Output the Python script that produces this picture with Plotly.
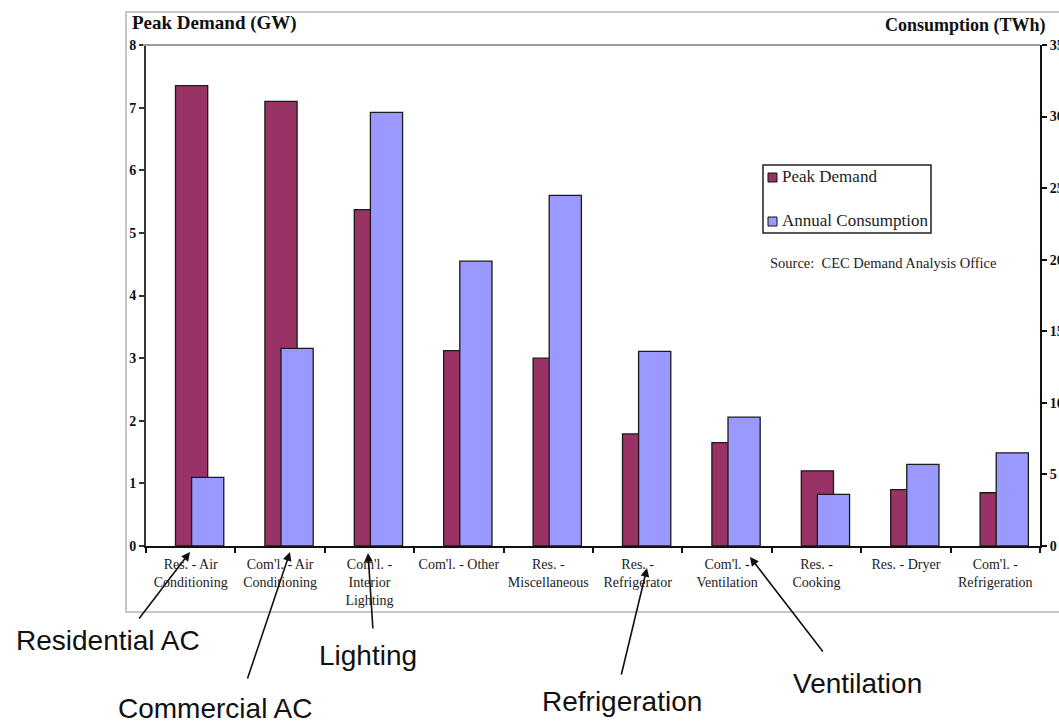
import plotly.graph_objects as go

# End-use categories and their values
categories = [
    "Res. - Air<br>Conditioning",
    "Com'l. - Air<br>Conditioning",
    "Com'l. -<br>Interior<br>Lighting",
    "Com'l. - Other",
    "Res. -<br>Miscellaneous",
    "Res. -<br>Refrigerator",
    "Com'l. -<br>Ventilation",
    "Res. -<br>Cooking",
    "Res. - Dryer",
    "Com'l. -<br>Refrigeration",
]
peak_demand_gw = [7.35, 7.10, 5.37, 3.12, 3.00, 1.79, 1.65, 1.20, 0.90, 0.85]
consumption_twh = [4.8, 13.8, 30.3, 19.9, 24.5, 13.6, 9.0, 3.6, 5.7, 6.5]

W, H = 1059, 725
PL, PR, PT, PB = 146, 1040, 45, 546  # plot-area edges in pixels


def px(x):
    return (x - PL) / (PR - PL)


def py(y):
    return (PB - y) / (PB - PT)


SERIF = "Liberation Serif"
SANS = "Liberation Sans"
MAROON = "#993366"
PERI = "#9999FF"

fig = go.Figure()
fig.add_trace(go.Bar(
    x=categories, y=peak_demand_gw, name="Peak Demand",
    marker=dict(color=MAROON, line=dict(color="#1a1a1a", width=1.3)),
    offset=-0.17, width=0.36, yaxis="y", showlegend=False,
))
fig.add_trace(go.Bar(
    x=categories, y=consumption_twh, name="Annual Consumption",
    marker=dict(color=PERI, line=dict(color="#1a1a1a", width=1.3)),
    offset=0.01, width=0.36, yaxis="y2", showlegend=False,
))

tickfont_bold = dict(family=SERIF, size=14, color="#111", weight="bold")

fig.update_layout(
    width=W, height=H, autosize=False,
    margin=dict(l=PL, r=W - PR, t=PT, b=H - PB, autoexpand=False),
    paper_bgcolor="white", plot_bgcolor="white",
    barmode="overlay",
    xaxis=dict(
        type="category", categoryorder="array", categoryarray=categories,
        range=[-0.5, 9.5], showgrid=False, zeroline=False, automargin=False,
        showline=True, linecolor="#111", linewidth=2,
        ticks="outside", tickson="boundaries", ticklen=5, tickcolor="#111", tickwidth=1.5,
        tickfont=dict(family=SERIF, size=14, color="#222"),
        tickangle=0, ticklabelstandoff=4,
    ),
    yaxis=dict(
        range=[0, 8], dtick=1, showgrid=False, zeroline=False, automargin=False,
        showline=True, linecolor="#333", linewidth=2,
        ticks="outside", ticklen=5, tickcolor="#333", tickwidth=1.5,
        tickfont=tickfont_bold,
    ),
    yaxis2=dict(
        range=[0, 35], dtick=5, overlaying="y", side="right", anchor="x",
        showgrid=False, zeroline=False, automargin=False,
        showline=True, linecolor="#111", linewidth=2,
        ticks="outside", ticklen=5, tickcolor="#111", tickwidth=1.5,
        tickfont=tickfont_bold,
    ),
)

shapes = [
    # outer chart frame
    dict(type="rect", xref="paper", yref="paper",
         x0=px(126), x1=px(1075), y0=py(12), y1=py(612),
         line=dict(color="#c8c8c8", width=2), fillcolor="rgba(0,0,0,0)", layer="below"),
    # plot-area top edge
    dict(type="line", xref="paper", yref="paper",
         x0=px(143), x1=px(PR), y0=1, y1=1,
         line=dict(color="#9a9a9a", width=2)),
    # legend box
    dict(type="rect", xref="paper", yref="paper",
         x0=px(763), x1=px(931), y0=py(165), y1=py(233),
         line=dict(color="#222", width=1.5), fillcolor="white"),
    # legend swatches
    dict(type="rect", xref="paper", yref="paper",
         x0=px(768), x1=px(777), y0=py(173), y1=py(182),
         line=dict(color="#111", width=1), fillcolor=MAROON),
    dict(type="rect", xref="paper", yref="paper",
         x0=px(768), x1=px(777), y0=py(217), y1=py(226),
         line=dict(color="#111", width=1), fillcolor=PERI),
]

annotations = [
    dict(text="<b>Peak Demand (GW)</b>", x=px(130), y=py(23), xanchor="left", yanchor="middle",
         font=dict(family=SERIF, size=19, color="#111")),
    dict(text="<b>Consumption (TWh)</b>", x=px(883), y=py(25), xanchor="left", yanchor="middle",
         font=dict(family=SERIF, size=18, color="#111")),
    dict(text="Peak Demand", x=px(780), y=py(177), xanchor="left", yanchor="middle",
         font=dict(family=SERIF, size=17, color="#222")),
    dict(text="Annual Consumption", x=px(780), y=py(221), xanchor="left", yanchor="middle",
         font=dict(family=SERIF, size=17, color="#222")),
    dict(text="Source:&nbsp; CEC Demand Analysis Office", x=px(768), y=py(263),
         xanchor="left", yanchor="middle",
         font=dict(family=SERIF, size=14.5, color="#222")),
    # callout labels
    dict(text="Residential AC", x=px(108), y=py(640), xanchor="center", yanchor="middle",
         font=dict(family=SANS, size=28, color="#111")),
    dict(text="Commercial AC", x=px(215), y=py(708), xanchor="center", yanchor="middle",
         font=dict(family=SANS, size=28, color="#111")),
    dict(text="Lighting", x=px(368), y=py(655), xanchor="center", yanchor="middle",
         font=dict(family=SANS, size=28, color="#111")),
    dict(text="Refrigeration", x=px(622), y=py(701), xanchor="center", yanchor="middle",
         font=dict(family=SANS, size=28, color="#111")),
    dict(text="Ventilation", x=px(857), y=py(683), xanchor="center", yanchor="middle",
         font=dict(family=SANS, size=28, color="#111")),
]

# callout arrows: (head_x, head_y, tail_x, tail_y) in pixels
arrows = [
    (190, 552, 138, 620),
    (290, 552, 247, 680),
    (368, 553, 373, 630),
    (647, 568, 621, 676),
    (750, 557, 824, 653),
]
for hx, hy, tx, ty in arrows:
    annotations.append(dict(
        text="", x=px(hx), y=py(hy), showarrow=True,
        ax=tx - hx, ay=ty - hy, axref="pixel", ayref="pixel",
        arrowhead=2, arrowsize=1.1, arrowwidth=1.6, arrowcolor="#111", standoff=0,
    ))

for a in annotations:
    a.setdefault("xref", "paper")
    a.setdefault("yref", "paper")
    a.setdefault("showarrow", False)

fig.update_layout(shapes=shapes, annotations=annotations)

fig.write_html("out.html")
